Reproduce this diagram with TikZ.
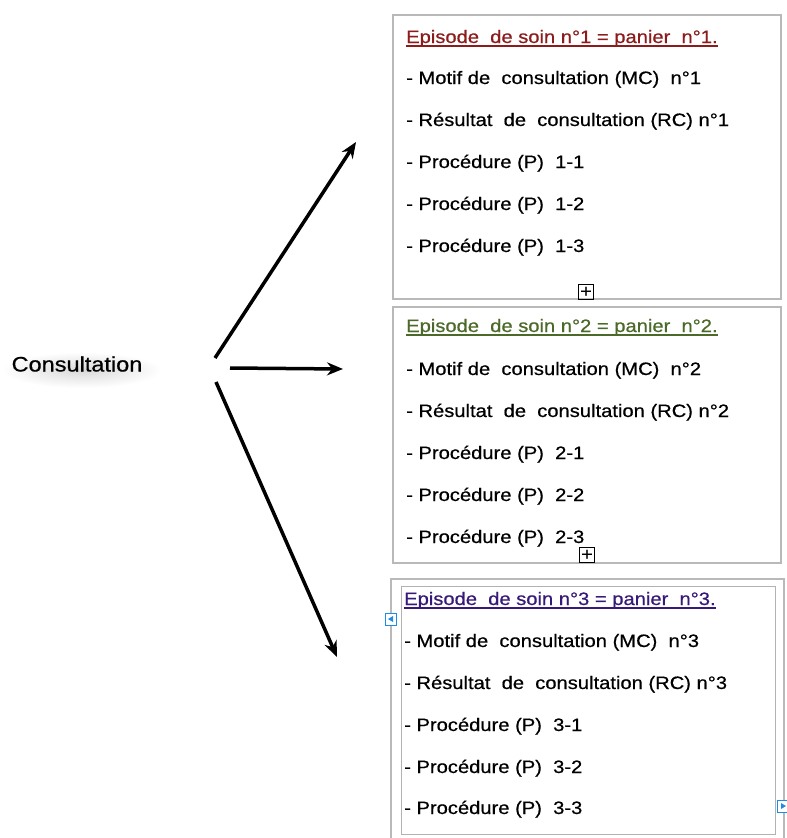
\documentclass[tikz,border=0pt]{standalone}
\usepackage{fontspec}
\setmainfont{Liberation Sans}[FakeStretch=1.12, FakeBold=0.6]
\usetikzlibrary{arrows.meta}
\definecolor{epired}{RGB}{140,28,28}
\definecolor{epigreen}{RGB}{75,105,40}
\definecolor{epiviolet}{RGB}{55,25,120}
\definecolor{markblue}{RGB}{30,140,230}

\begin{document}
\begin{tikzpicture}[x=1pt,y=-1pt, every node/.style={font=\fontsize{18}{20}\selectfont, inner sep=0pt},
    item/.style={anchor=base west},
    box/.style={draw=gray!55, line width=2pt},
    uline/.style={line width=1.1pt},
    plusbox/.style={draw, line width=0.9pt, minimum size=15pt, font=\fontsize{18}{18}\selectfont},
    link/.style={-{Stealth[length=16pt,width=13pt]}, line width=3.5pt},
    marker/.style={draw=markblue, fill=white, line width=1pt, minimum width=11pt, minimum height=12pt}]
    \useasboundingbox (0,0) rectangle (787,838);
    % consultation label, with its soft shadow
    \shade[inner color=gray!30, outer color=white] (82,370) ellipse [x radius=80pt, y radius=18pt];
    \node[font=\fontsize{21}{24}\selectfont] (cons) at (77,364) {Consultation};
    % arrows
    \coordinate (up0) at (215,358);
    \coordinate (up1) at (356,142);
    \coordinate (mid0) at (230,368);
    \coordinate (mid1) at (343,369);
    \coordinate (low0) at (216,382);
    \coordinate (low1) at (337,657);
    \draw[link] (up0) -- (up1);
    \draw[link] (mid0) -- (mid1);
    \draw[link] (low0) -- (low1);
    % episode 1
    \node[box, minimum width=388pt, minimum height=284pt] (ep1) at (587,157) {};
    \node[item, epired] (h1) at (406,43) {Episode~ de soin n°1 = panier~ n°1.};
    \draw[uline, epired] ([yshift=-3pt]h1.base west) -- ([yshift=-3pt]h1.base east);
    \node[item] (mc1) at (406,84) {- Motif de~ consultation (MC)~ n°1};
    \node[item] (rc1) at (406,126) {- Résultat~ de~ consultation (RC) n°1};
    \node[item] (p11) at (406,168) {- Procédure (P)~ 1-1};
    \node[item] (p12) at (406,210) {- Procédure (P)~ 1-2};
    \node[item] (p13) at (406,252) {- Procédure (P)~ 1-3};
    \node[plusbox] (plus1) at (586,292) {+};
    % episode 2
    \node[box, minimum width=388pt, minimum height=256pt] (ep2) at (587,435) {};
    \node[item, epigreen] (h2) at (406,332) {Episode~ de soin n°2 = panier~ n°2.};
    \draw[uline, epigreen] ([yshift=-3pt]h2.base west) -- ([yshift=-3pt]h2.base east);
    \node[item] (mc2) at (406,375) {- Motif de~ consultation (MC)~ n°2};
    \node[item] (rc2) at (406,417) {- Résultat~ de~ consultation (RC) n°2};
    \node[item] (p21) at (406,459) {- Procédure (P)~ 2-1};
    \node[item] (p22) at (406,501) {- Procédure (P)~ 2-2};
    \node[item] (p23) at (406,543) {- Procédure (P)~ 2-3};
    \node[plusbox] (plus2) at (587,555) {+};
    % episode 3
    \draw[box] (391,840) -- (391,579) -- (784,579) -- (784,840);
    \node[draw=gray!60, line width=1pt, minimum width=374pt, minimum height=248pt] (ep3) at (588,710) {};
    \node[item, epiviolet] (h3) at (404,605) {Episode~ de soin n°3 = panier~ n°3.};
    \draw[uline, epiviolet] ([yshift=-3pt]h3.base west) -- ([yshift=-3pt]h3.base east);
    \node[item] (mc3) at (404,647) {- Motif de~ consultation (MC)~ n°3};
    \node[item] (rc3) at (404,689) {- Résultat~ de~ consultation (RC) n°3};
    \node[item] (p31) at (404,731) {- Procédure (P)~ 3-1};
    \node[item] (p32) at (404,773) {- Procédure (P)~ 3-2};
    \node[item] (p33) at (404,814) {- Procédure (P)~ 3-3};
    \node[marker] (mk1) at (391,619) {};
    \fill[markblue] (388,619) -- (393,616) -- (393,622) -- cycle;
    \node[marker] (mk2) at (783,806) {};
    \fill[markblue] (786,806) -- (781,803) -- (781,809) -- cycle;
\end{tikzpicture}
\end{document}
